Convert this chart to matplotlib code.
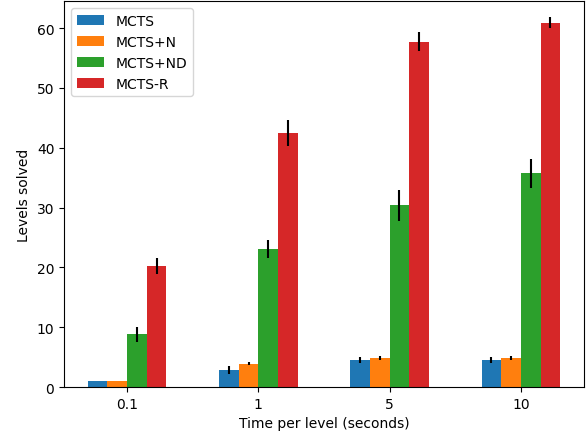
import numpy as np
import matplotlib
matplotlib.use('Agg')
import matplotlib.pyplot as plt

times = ['0.1', '1', '5', '10']
labels = ['MCTS', 'MCTS+N', 'MCTS+ND', 'MCTS-R']

mcts = [1.0, 2.8, 4.5, 4.5]
mcts_err = [0.0, 0.7, 0.5, 0.5]
mcts_n = [1.0, 3.9, 4.85, 4.85]
mcts_n_err = [0.0, 0.3, 0.4, 0.4]
mcts_nd = [8.8, 23.1, 30.4, 35.7]
mcts_nd_err = [1.2, 1.5, 2.6, 2.5]
mcts_r = [20.2, 42.5, 57.7, 60.9]
mcts_r_err = [1.3, 2.2, 1.6, 0.9]

means = [mcts, mcts_n, mcts_nd, mcts_r]
errs = [mcts_err, mcts_n_err, mcts_nd_err, mcts_r_err]

x = np.arange(len(times))
w = 0.15

fig, ax = plt.subplots(figsize=(5.88, 4.35), dpi=100)
for i in range(4):
    ax.bar(x + (i - 1.5) * w, means[i], w, yerr=errs[i], label=labels[i],
           error_kw=dict(ecolor='black', elinewidth=1.5))

ax.set_xticks(x)
ax.set_xticklabels(times)
ax.set_xlabel('Time per level (seconds)')
ax.set_ylabel('Levels solved')
ax.set_ylim(0, 64.5)
ax.legend(loc='upper left')

plt.subplots_adjust(left=0.109, right=0.993, bottom=0.108, top=0.995)
plt.savefig('out.png')
